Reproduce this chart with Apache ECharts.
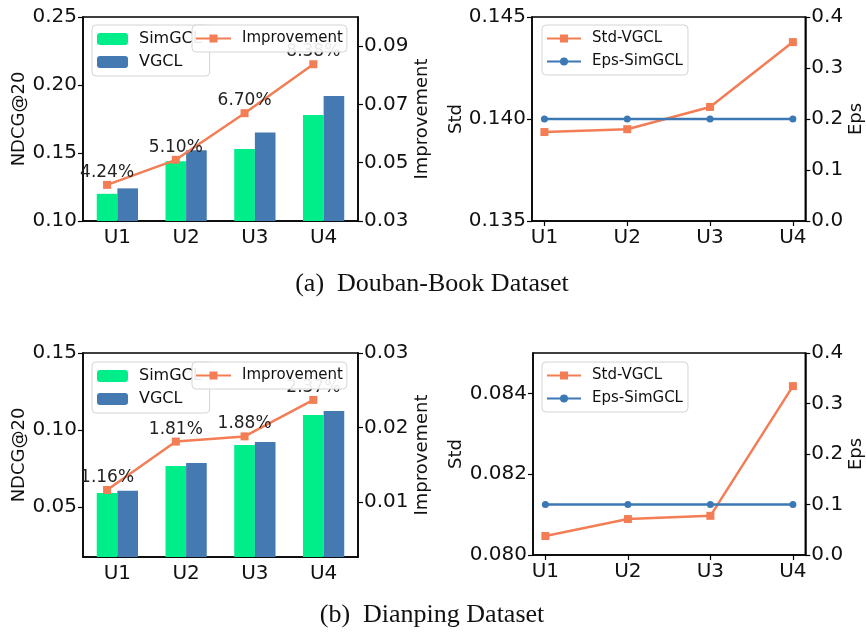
<!DOCTYPE html>
<html>
<head>
<meta charset="utf-8">
<script src="https://cdn.jsdelivr.net/npm/echarts@6/dist/echarts.min.js"></script>
<style>
  html, body { margin: 0; padding: 0; background: #fff; }
  #chart { width: 866px; height: 633px; }
</style>
</head>
<body>
<div id="chart"></div>
<script>
// Dữ liệu
const users = ['U1', 'U2', 'U3', 'U4'];

// (a) Douban-Book
const doubanSimgcl = [0.120, 0.144, 0.153, 0.178];
const doubanVgcl = [0.124, 0.152, 0.165, 0.192];
const doubanImprove = [0.0424, 0.0510, 0.0670, 0.0838];
const doubanStd = [0.13936, 0.1395, 0.14059, 0.14377];
const doubanEps = [0.2, 0.2, 0.2, 0.2];

// (b) Dianping
const dianpingSimgcl = [0.0591, 0.0766, 0.0902, 0.1097];
const dianpingVgcl = [0.0605, 0.0786, 0.0922, 0.1123];
const dianpingImprove = [0.0116, 0.0181, 0.0188, 0.0237];
const dianpingStd = [0.08047, 0.08089, 0.08097, 0.08418];
const dianpingEps = [0.1, 0.1, 0.1, 0.1];

// Nhãn trục
const doubanNdcgTicks = [0.10, 0.15, 0.20, 0.25];
const doubanImproveTicks = [0.03, 0.05, 0.07, 0.09];
const doubanStdTicks = [0.135, 0.140, 0.145];
const dianpingNdcgTicks = [0.05, 0.10, 0.15];
const dianpingImproveTicks = [0.01, 0.02, 0.03];
const dianpingStdTicks = [0.080, 0.082, 0.084];
const epsTicks = [0.0, 0.1, 0.2, 0.3, 0.4];
const userTicks = [0, 1, 2, 3];

const GREEN = '#00EE8A';
const BLUE = '#4479B1';
const ORANGE = '#F37D55';
const LINEBLUE = '#3C79B4';
const FONT = 'DejaVu Sans';
const shift = 0.15; // nửa độ rộng cột (đơn vị category)

var chartDom = document.getElementById('chart');
var myChart = echarts.init(chartDom);

function yAxis(grid, pos, min, max, ticks, digits, name, gap) {
    return {
        type: 'value', gridIndex: grid, position: pos, min: min, max: max,
        name: name, nameLocation: 'middle', nameGap: gap,
        nameTextStyle: { fontFamily: FONT, fontSize: 18, color: '#111' },
        axisLine: { show: true, onZero: false, lineStyle: { color: '#000', width: 1.5 } },
        axisTick: { show: true, length: 5, customValues: ticks, lineStyle: { color: '#000', width: 1.2 } },
        axisLabel: { customValues: ticks, margin: 6, fontFamily: FONT, fontSize: 20, color: '#111',
            formatter: v => v.toFixed(digits) },
        splitLine: { show: false }
    };
}

function catAxis(grid) {
    return {
        type: 'category', gridIndex: grid, data: users, boundaryGap: true,
        axisLine: { onZero: false, lineStyle: { color: '#000', width: 1.5 } },
        axisTick: { alignWithLabel: true, length: 5, lineStyle: { color: '#000', width: 1.2 } },
        axisLabel: { margin: 7, fontFamily: FONT, fontSize: 20, color: '#111' }
    };
}

function hiddenAxis(grid) {
    return { type: 'value', gridIndex: grid, min: -0.5, max: 3.5, show: false };
}

function pointAxis(grid) {
    return {
        type: 'value', gridIndex: grid, min: -0.15, max: 3.15,
        axisLine: { onZero: false, lineStyle: { color: '#000', width: 1.5 } },
        axisTick: { show: true, length: 5, customValues: userTicks, lineStyle: { color: '#000', width: 1.2 } },
        axisLabel: { customValues: userTicks, margin: 7, fontFamily: FONT, fontSize: 20, color: '#111',
            formatter: v => users[Math.round(v)] },
        splitLine: { show: false }
    };
}

function barSeries(name, color, xi, yi, data) {
    return { name: name, type: 'bar', xAxisIndex: xi, yAxisIndex: yi, data: data,
        barWidth: '30%', barGap: '0%', itemStyle: { color: color } };
}

function improveSeries(xi, yi, data) {
    return {
        name: 'Improvement', type: 'line', xAxisIndex: xi, yAxisIndex: yi,
        data: data.map((v, i) => [i - shift, v]),
        symbol: 'rect', symbolSize: 8, color: ORANGE,
        lineStyle: { width: 2.5, color: ORANGE }, z: 3,
        label: { show: true, position: 'top', distance: 0, fontFamily: FONT, fontSize: 17, color: '#222',
            formatter: p => (p.value[1] * 100).toFixed(2) + '%' }
    };
}

function pointSeries(name, symbol, size, color, xi, yi, data) {
    return {
        name: name, type: 'line', xAxisIndex: xi, yAxisIndex: yi,
        data: data.map((v, i) => [i, v]),
        symbol: symbol, symbolSize: size, color: color,
        lineStyle: { width: 2.5, color: color }
    };
}

function legend(left, top, names, w, h, pad, gap, z, fs) {
    return {
        orient: 'vertical', left: left, top: top, data: names,
        backgroundColor: 'rgba(255,255,255,0.9)',
        borderColor: '#d4d4d4', borderWidth: 1, borderRadius: 4,
        itemWidth: w, itemHeight: h, padding: pad, itemGap: gap, z: z,
        textStyle: { fontFamily: FONT, fontSize: fs, color: '#111', padding: [0, 0, 0, 6] }
    };
}

function grid(left, top, height) {
    return { left: left, top: top, width: 275, height: height, show: true,
        borderColor: '#000', borderWidth: 1.5 };
}

var option = {
    animation: false,
    grid: [grid(83, 17, 204), grid(532, 17, 204), grid(83, 353, 204), grid(533, 353, 202)],
    xAxis: [catAxis(0), hiddenAxis(0), pointAxis(1), catAxis(2), hiddenAxis(2), pointAxis(3)],
    yAxis: [
        yAxis(0, 'left', 0.10, 0.25, doubanNdcgTicks, 2, 'NDCG@20', 50),
        yAxis(0, 'right', 0.03, 0.10, doubanImproveTicks, 2, 'Improvement', 55),
        yAxis(1, 'left', 0.135, 0.145, doubanStdTicks, 3, 'Std', 67),
        yAxis(1, 'right', 0, 0.4, epsTicks, 1, 'Eps', 41),
        yAxis(2, 'left', 0.0175, 0.15, dianpingNdcgTicks, 2, 'NDCG@20', 50),
        yAxis(2, 'right', 0.0026, 0.03, dianpingImproveTicks, 2, 'Improvement', 55),
        yAxis(3, 'left', 0.080, 0.085, dianpingStdTicks, 3, 'Std', 68),
        yAxis(3, 'right', 0, 0.4, epsTicks, 1, 'Eps', 41)
    ],
    legend: [
        legend(92, 25, ['SimGCL', 'VGCL'], 31, 12, [6, 8, 6, 5], 7, 4, 16),
        legend(192, 25, ['Improvement'], 35, 10, [6, 4, 6, 3], 8, 6, 15),
        legend(542, 25, ['Std-VGCL', 'Eps-SimGCL'], 34, 10, [6, 5, 6, 4], 8, 4, 15),
        legend(92, 362, ['SimGCL', 'VGCL'], 31, 12, [6, 8, 6, 5], 7, 4, 16),
        legend(192, 362, ['Improvement'], 35, 10, [6, 4, 6, 3], 8, 6, 15),
        legend(542, 362, ['Std-VGCL', 'Eps-SimGCL'], 34, 10, [6, 5, 6, 4], 8, 4, 15)
    ],
    series: [
        barSeries('SimGCL', GREEN, 0, 0, doubanSimgcl),
        barSeries('VGCL', BLUE, 0, 0, doubanVgcl),
        improveSeries(1, 1, doubanImprove),
        pointSeries('Std-VGCL', 'rect', 8, ORANGE, 2, 2, doubanStd),
        pointSeries('Eps-SimGCL', 'circle', 7, LINEBLUE, 2, 3, doubanEps),
        barSeries('SimGCL', GREEN, 3, 4, dianpingSimgcl),
        barSeries('VGCL', BLUE, 3, 4, dianpingVgcl),
        improveSeries(4, 5, dianpingImprove),
        pointSeries('Std-VGCL', 'rect', 8, ORANGE, 5, 6, dianpingStd),
        pointSeries('Eps-SimGCL', 'circle', 7, LINEBLUE, 5, 7, dianpingEps)
    ],
    graphic: [
        { type: 'text', x: 432, y: 284, style: { text: '(a)  Douban-Book Dataset', align: 'center',
            verticalAlign: 'middle', font: '26px "Liberation Serif"', fill: '#111' } },
        { type: 'text', x: 432, y: 615, style: { text: '(b)  Dianping Dataset', align: 'center',
            verticalAlign: 'middle', font: '26px "Liberation Serif"', fill: '#111' } }
    ]
};

myChart.setOption(option);
</script>
</body>
</html>
